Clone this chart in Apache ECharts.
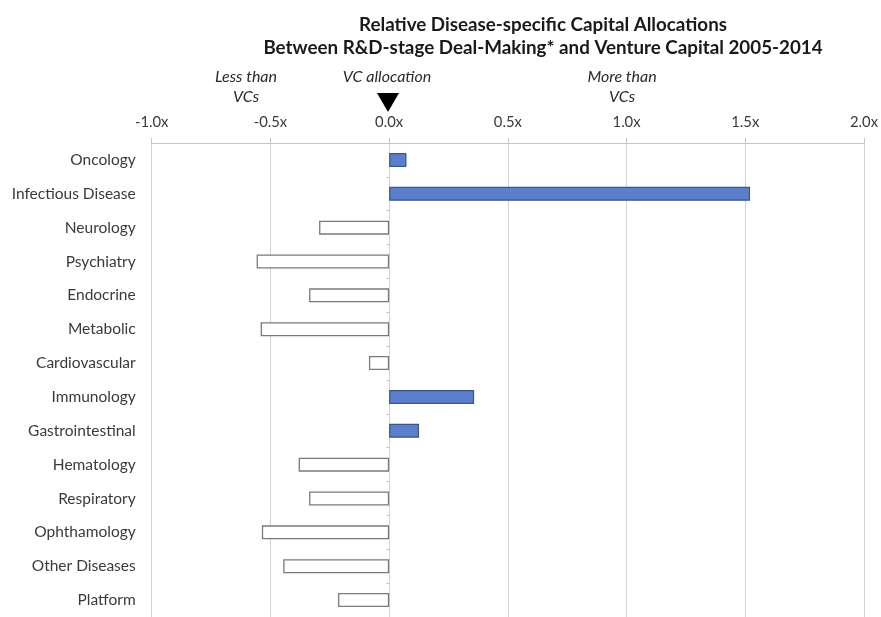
<!DOCTYPE html>
<html>
<head>
<meta charset="utf-8">
<script src="https://cdn.jsdelivr.net/npm/echarts@6/dist/echarts.min.js"></script>
<style>
  html, body { margin: 0; padding: 0; background: #fff; }
  #chart { width: 881px; height: 617px; }
</style>
</head>
<body>
<div id="chart"></div>
<script>
// Disease areas, top to bottom
const categories = [
  'Oncology', 'Infectious Disease', 'Neurology', 'Psychiatry', 'Endocrine',
  'Metabolic', 'Cardiovascular', 'Immunology', 'Gastrointestinal',
  'Hematology', 'Respiratory', 'Ophthamology', 'Other Diseases', 'Platform'
];
// Deal-making allocation relative to VC allocation (0 = same as VCs)
const relativeAllocation = [
  0.073, 1.52, -0.295, -0.558, -0.337,
  -0.541, -0.085, 0.358, 0.126,
  -0.381, -0.337, -0.536, -0.446, -0.215
];
const xTicks = { min: -1.0, max: 2.0, step: 0.5 };

const FONT = 'Lato, "Open Sans", sans-serif';
const BLUE = '#5b7fca';
const BLUE_EDGE = '#3d5587';
const GREY_EDGE = '#7a7a7a';
const NOTE_FONT = 'italic 16px ' + FONT;

const chart = echarts.init(document.getElementById('chart'), null, { renderer: 'canvas' });

const barData = relativeAllocation.map(v => ({
  value: v,
  itemStyle: v >= 0
    ? { color: BLUE, borderColor: BLUE_EDGE, borderWidth: 1.2 }
    : { color: '#ffffff', borderColor: GREY_EDGE, borderWidth: 1.3 }
}));

function note(text, x, y) {
  return {
    type: 'text',
    style: {
      text: text, x: x, y: y, align: 'center', verticalAlign: 'middle',
      font: NOTE_FONT, fill: '#2a2a2a'
    }
  };
}

chart.setOption({
  backgroundColor: '#ffffff',
  animation: false,
  title: {
    text: 'Relative Disease-specific Capital Allocations\nBetween R&D-stage Deal-Making* and Venture Capital 2005-2014',
    left: 538,
    top: 8,
    textAlign: 'center',
    textStyle: {
      fontFamily: FONT,
      fontSize: 18.8,
      fontWeight: 'bold',
      color: '#1a1a1a',
      lineHeight: 23
    }
  },
  grid: { left: 151.7, right: 16.6, top: 143, height: 477.4, containLabel: false },
  xAxis: {
    type: 'value',
    position: 'top',
    min: xTicks.min,
    max: xTicks.max,
    interval: xTicks.step,
    axisLine: { show: true, lineStyle: { color: '#c4c4c4', width: 1 } },
    axisTick: { show: true, inside: false, length: 5, lineStyle: { color: '#c4c4c4' } },
    axisLabel: {
      margin: 13,
      fontFamily: FONT,
      fontSize: 14.8,
      color: '#3a3a3a',
      formatter: v => v.toFixed(1) + 'x'
    },
    splitLine: { show: true, lineStyle: { color: '#d2d2d2', width: 1 } }
  },
  yAxis: [
    {
      type: 'category',
      data: categories,
      inverse: true,
      axisLine: { show: false },
      axisTick: { show: false },
      axisLabel: {
        margin: 16,
        fontFamily: FONT,
        fontSize: 15.5,
        color: '#3a3a3a'
      }
    },
    {
      // tick marks along the zero line between categories
      type: 'category',
      data: categories,
      inverse: true,
      position: 'left',
      offset: -237.6,
      axisLine: { show: false },
      axisTick: { show: true, length: 3, lineStyle: { color: '#c4c4c4' } },
      axisLabel: { show: false }
    }
  ],
  series: [{
    type: 'bar',
    yAxisIndex: 0,
    data: barData,
    barWidth: 14,
    silent: true
  }],
  graphic: [
    note('Less than', 246, 77),
    note('VCs', 246, 97),
    note('VC allocation', 387, 77),
    {
      type: 'polygon',
      shape: { points: [[377, 93], [399, 93], [388, 112]] },
      style: { fill: '#000000' }
    },
    note('More than', 622, 77),
    note('VCs', 622, 97)
  ]
});
</script>
</body>
</html>
